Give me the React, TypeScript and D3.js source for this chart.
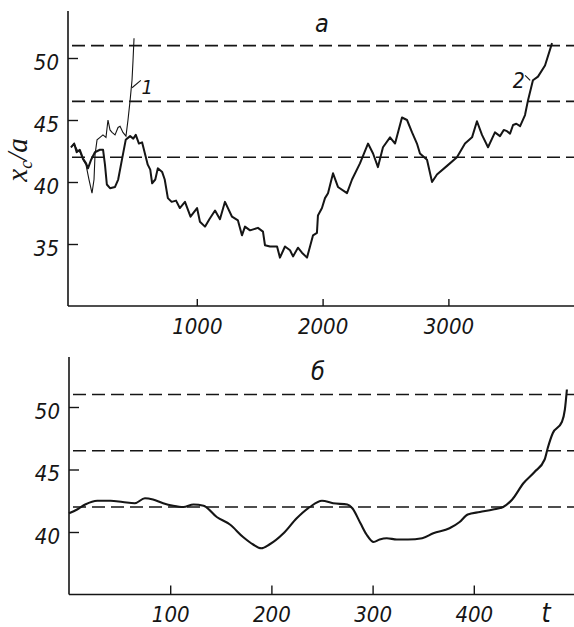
import React, { useRef, useEffect } from 'react';
import { select, scaleLinear, axisBottom, axisLeft, line, curveLinear, curveMonotoneX } from 'd3';

const W = 574;
const H = 627;

// critical levels (dashed), same in both panels
const levels = [42, 46.5, 51];

// panel а: long runs
const topXTicks = [1000, 2000, 3000];
const topYTicks = [35, 40, 45, 50];
const run1T = [0, 25, 48, 72, 95, 119, 143, 167, 183, 191, 207, 231, 254, 278, 294, 310, 326, 350, 374, 390, 413, 437, 453, 469, 485, 493, 501];
const run1X = [42.8, 43.1, 42.6, 42.4, 41.8, 41.4, 40.2, 39.1, 40.2, 42.2, 43.4, 43.6, 43.8, 43.6, 45.0, 44.2, 44.0, 43.8, 44.4, 44.5, 44.0, 43.7, 45.0, 46.5, 48.2, 49.8, 51.6];
const run2T = [0, 25, 45, 70, 95, 120, 135, 160, 190, 230, 255, 270, 285, 310, 350, 375, 405, 435, 470, 495, 515, 540, 565, 590, 610, 630, 645, 670, 690, 725, 745, 770, 800, 835, 865, 906, 950, 1002, 1025, 1065, 1100, 1145, 1184, 1224, 1280, 1327, 1359, 1383, 1423, 1486, 1526, 1542, 1582, 1638, 1661, 1701, 1741, 1765, 1804, 1836, 1876, 1900, 1924, 1955, 1963, 1995, 2019, 2043, 2083, 2122, 2194, 2234, 2297, 2361, 2401, 2440, 2480, 2536, 2576, 2631, 2671, 2711, 2750, 2774, 2830, 2870, 2909, 2989, 3068, 3132, 3188, 3227, 3267, 3315, 3370, 3410, 3440, 3466, 3490, 3514, 3540, 3570, 3609, 3633, 3672, 3712, 3768, 3824];
const run2X = [42.8, 43.1, 42.4, 42.6, 41.9, 41.5, 41.1, 41.8, 42.4, 42.6, 42.6, 41.4, 39.8, 39.5, 39.6, 40.2, 41.8, 43.4, 43.7, 43.5, 43.8, 43.1, 43.2, 42.2, 41.4, 41.0, 39.9, 40.2, 41.1, 40.8, 40.2, 38.7, 38.4, 38.5, 37.9, 38.4, 37.2, 37.9, 36.8, 36.4, 37.0, 37.7, 37.0, 38.4, 37.2, 36.9, 35.7, 36.4, 36.1, 36.3, 36.0, 34.9, 34.8, 34.8, 33.9, 34.8, 34.5, 34.0, 34.7, 34.3, 33.9, 34.8, 35.7, 35.9, 37.3, 37.9, 38.7, 39.1, 40.7, 39.6, 39.1, 40.2, 41.5, 43.1, 42.3, 41.2, 42.8, 43.6, 43.1, 45.2, 45.0, 44.0, 43.1, 42.3, 41.8, 40.0, 40.6, 41.3, 42.0, 43.1, 43.6, 44.9, 43.8, 42.8, 44.0, 43.7, 44.2, 44.1, 43.9, 44.6, 44.7, 44.5, 45.4, 46.6, 48.2, 48.5, 49.4, 51.2];

// panel б: smoothed run
const botXTicks = [100, 200, 300, 400];
const botYTicks = [40, 45, 50];
const run3T = [0, 8, 16, 28, 41, 53, 65, 75, 83, 93, 103, 113, 123, 133, 146, 159, 172, 182, 190, 198, 212, 225, 238, 250, 261, 275, 280, 288, 294, 301, 307, 314, 324, 335, 349, 360, 376, 386, 394, 406, 419, 429, 438, 449, 460, 470, 473, 478, 487, 490, 492];
const run3X = [41.5, 41.8, 42.2, 42.5, 42.5, 42.4, 42.3, 42.7, 42.6, 42.3, 42.1, 42.0, 42.2, 42.1, 41.2, 40.6, 39.6, 39.0, 38.7, 39.0, 39.9, 41.1, 42.0, 42.5, 42.3, 42.2, 41.9, 40.7, 39.8, 39.2, 39.4, 39.5, 39.4, 39.4, 39.5, 39.9, 40.3, 40.8, 41.4, 41.6, 41.8, 42.0, 42.6, 43.9, 44.8, 45.8, 46.7, 47.9, 48.8, 49.8, 51.4];

const INK = '#151515';
const TICK_FONT = "'Liberation Sans Narrow', 'DejaVu Sans Condensed', 'Liberation Sans', sans-serif";
const LABEL_FONT = "'Liberation Serif', 'DejaVu Serif', serif";

const zip = (ts, xs) => ts.map((t, i) => [t, xs[i]]);

const drawPanel = (svg, { x, y, axisX, yMin, yTop, xTicks, yTicks, xTickSize }) => {
  const g = svg.append('g');
  const x0 = y(yMin);

  // axis lines
  g.append('line')
    .attr('x1', axisX).attr('x2', W)
    .attr('y1', x0).attr('y2', x0)
    .attr('stroke', INK).attr('stroke-width', 1.6);
  g.append('line')
    .attr('x1', axisX).attr('x2', axisX)
    .attr('y1', x0).attr('y2', y(yTop))
    .attr('stroke', INK).attr('stroke-width', 1.6);

  const xAxis = g.append('g')
    .attr('transform', `translate(0,${x0})`)
    .call(axisBottom(x).tickValues(xTicks).tickSize(-xTickSize).tickPadding(12).tickFormat((d) => `${d}`));
  const yAxis = g.append('g')
    .attr('transform', `translate(${axisX},0)`)
    .call(axisLeft(y).tickValues(yTicks).tickSize(-10).tickPadding(9).tickFormat((d) => `${d}`));

  [xAxis, yAxis].forEach((a) => {
    a.select('.domain').remove();
    a.attr('font-family', TICK_FONT).attr('font-size', 22).attr('font-weight', 'normal');
    a.selectAll('line').attr('stroke', INK).attr('stroke-width', 1.4);
    a.selectAll('text').attr('fill', INK).attr('font-style', 'italic');
  });
  yAxis.selectAll('text').attr('dy', '0.5em');

  // dashed critical levels
  g.selectAll('.level')
    .data(levels)
    .join('line')
    .attr('class', 'level')
    .attr('x1', axisX + 4).attr('x2', W)
    .attr('y1', (d) => y(d)).attr('y2', (d) => y(d))
    .attr('stroke', INK).attr('stroke-width', 1.6)
    .attr('stroke-dasharray', '13 6');

  return g;
};

const App = () => {
  const svgRef = useRef(null);

  useEffect(() => {
    const svg = select(svgRef.current);
    svg.selectAll('*').remove();

    // ---- panel а
    const xA = scaleLinear().domain([0, 4000]).range([71, 574.2]);
    const yA = scaleLinear().domain([30, 54]).range([306, 8.4]);
    const gA = drawPanel(svg, { x: xA, y: yA, axisX: 68, yMin: 30, yTop: 53.8, xTicks: topXTicks, yTicks: topYTicks, xTickSize: 7 });

    const lineA = line().x((d) => xA(d[0])).y((d) => yA(d[1])).curve(curveLinear);
    gA.append('path')
      .datum(zip(run1T, run1X))
      .attr('d', lineA)
      .attr('fill', 'none').attr('stroke', INK).attr('stroke-width', 1.1);
    gA.append('path')
      .datum(zip(run2T, run2X))
      .attr('d', lineA)
      .attr('fill', 'none').attr('stroke', INK).attr('stroke-width', 2)
      .attr('stroke-linejoin', 'round');

    // curve labels
    gA.append('line')
      .attr('x1', xA(485)).attr('y1', yA(47.6))
      .attr('x2', xA(555)).attr('y2', yA(48.2))
      .attr('stroke', INK).attr('stroke-width', 1.1);
    gA.append('text')
      .attr('x', xA(605)).attr('y', yA(47.1))
      .attr('text-anchor', 'middle')
      .attr('font-family', TICK_FONT).attr('font-style', 'italic').attr('font-size', 20)
      .attr('fill', INK).text('1');
    gA.append('line')
      .attr('x1', xA(3610)).attr('y1', yA(48.6))
      .attr('x2', xA(3650)).attr('y2', yA(48.2))
      .attr('stroke', INK).attr('stroke-width', 1.1);
    gA.append('text')
      .attr('x', xA(3560)).attr('y', yA(47.6))
      .attr('text-anchor', 'middle')
      .attr('font-family', TICK_FONT).attr('font-style', 'italic').attr('font-size', 21)
      .attr('fill', INK).text('2');

    gA.append('text')
      .attr('x', 322).attr('y', 32)
      .attr('text-anchor', 'middle')
      .attr('font-family', TICK_FONT).attr('font-style', 'italic').attr('font-size', 25)
      .attr('fill', INK).text('а');

    // y label x_c/a
    const yl = gA.append('text')
      .attr('transform', 'translate(27,160) rotate(-90)')
      .attr('text-anchor', 'middle')
      .attr('font-family', LABEL_FONT).attr('font-style', 'italic').attr('font-size', 29)
      .attr('fill', INK);
    yl.append('tspan').text('x');
    yl.append('tspan').attr('font-size', 18).attr('dy', 5).text('c');
    yl.append('tspan').attr('dy', -5).text('/a');

    // ---- panel б
    const xB = scaleLinear().domain([0, 500]).range([69, 575]);
    const yB = scaleLinear().domain([35, 54]).range([594.5, 357]);
    const gB = drawPanel(svg, { x: xB, y: yB, axisX: 69, yMin: 35, yTop: 54, xTicks: botXTicks, yTicks: botYTicks, xTickSize: 9 });

    const lineB = line().x((d) => xB(d[0])).y((d) => yB(d[1])).curve(curveMonotoneX);
    gB.append('path')
      .datum(zip(run3T, run3X))
      .attr('d', lineB)
      .attr('fill', 'none').attr('stroke', INK).attr('stroke-width', 2.1)
      .attr('stroke-linejoin', 'round');

    gB.append('text')
      .attr('x', 318).attr('y', 380)
      .attr('text-anchor', 'middle')
      .attr('font-family', TICK_FONT).attr('font-style', 'italic').attr('font-size', 25)
      .attr('fill', INK).text('б');
    gB.append('text')
      .attr('x', 546).attr('y', 622)
      .attr('text-anchor', 'middle')
      .attr('font-family', TICK_FONT).attr('font-style', 'italic').attr('font-size', 26)
      .attr('fill', INK).text('t');
  }, []);

  return (
    <svg
      ref={svgRef}
      width={W}
      height={H}
      style={{ position: 'absolute', left: 0, top: 0, background: '#fff' }}
    />
  );
};

export default App;
